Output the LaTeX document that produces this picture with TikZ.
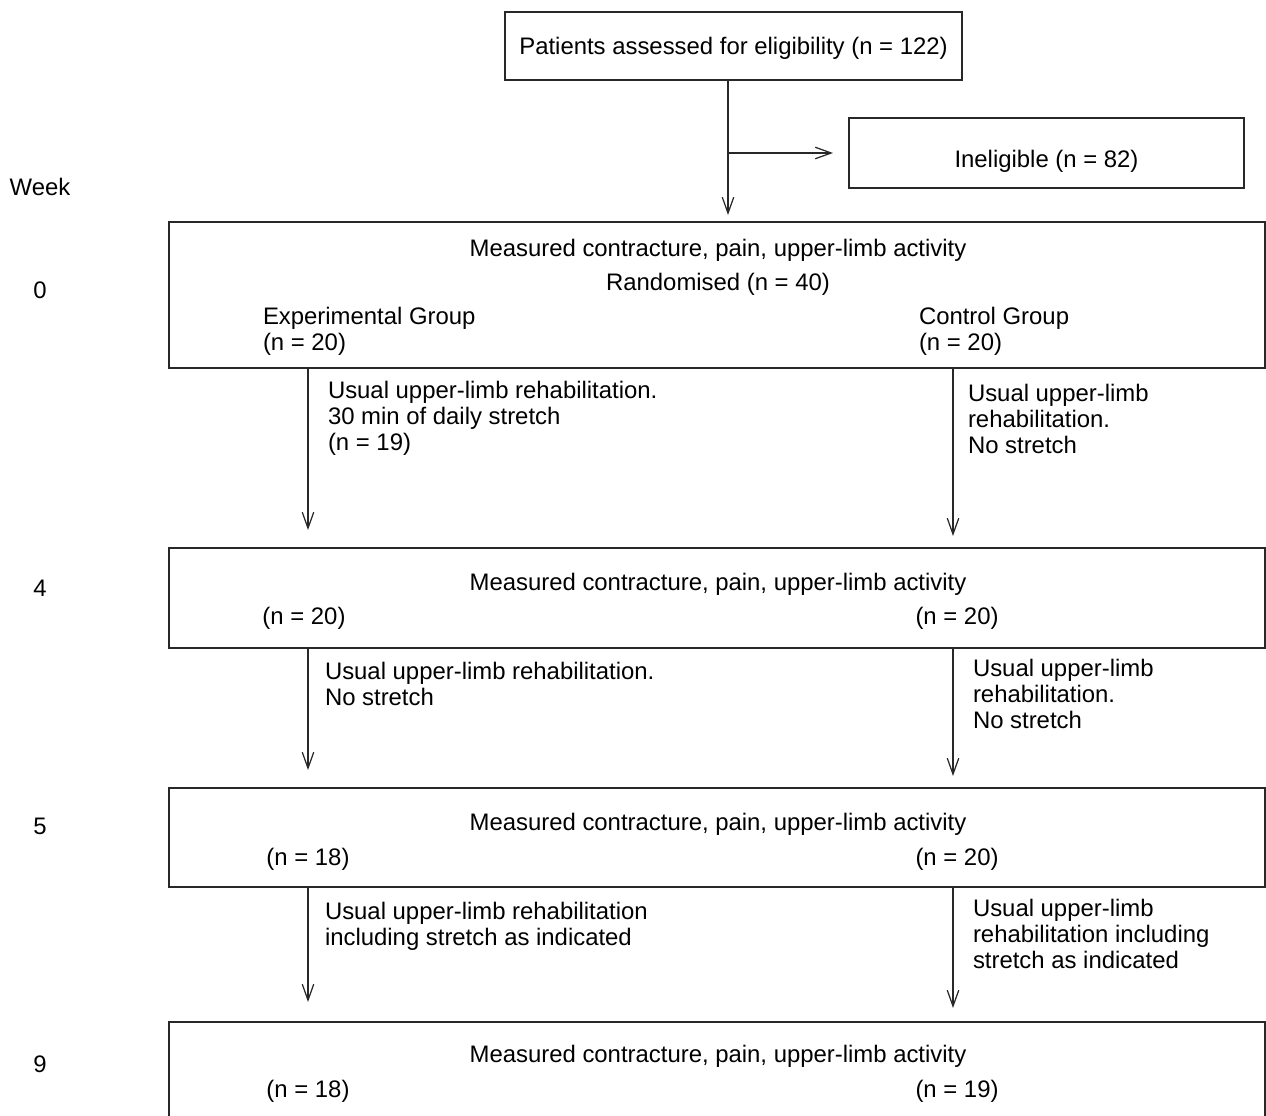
\documentclass[tikz,border=0pt]{standalone}
\usepackage{fontspec}
\setmainfont{Liberation Sans}
\definecolor{boxline}{RGB}{40, 40, 40}
\usepackage{tikz}
\usetikzlibrary{arrows.meta,positioning,calc}

\begin{document}
\begin{tikzpicture}[x=0.02cm, y=-0.02cm,
    every node/.style={font=\fontsize{13.6}{14.8}\selectfont, inner sep=0pt, outer sep=0pt},
    flowbox/.style={rectangle, draw=boxline, line width=0.9pt},
    stagebox/.style={flowbox, anchor=north west, minimum width=21.92cm},
    note/.style={anchor=base west, align=left},
    flowarrow/.style={-{Straight Barb[length=3.2mm, width=2.3mm]}, line width=0.7pt, color=boxline}]
    \useasboundingbox (0,0) rectangle (1266,1115);

    % Enrolment
    \node[flowbox, minimum width=9.14cm, minimum height=1.36cm, text height=1em, text depth=0pt] (assess) at (733.5,46) {Patients assessed for eligibility (n = 122)};
    \node[flowbox, minimum width=7.9cm, minimum height=1.4cm, text height=1.6em, text depth=0pt] (inelig) at (1046.5,153) {Ineligible (n = 82)};
    \coordinate (trunk) at (728,0);
    \coordinate (colL) at (308,0);
    \coordinate (colR) at (953,0);

    % Week labels
    \node[anchor=base] (week) at (40,195) {Week};
    \node[anchor=base] (wk0) at (40,298) {0};
    \node[anchor=base] (wk4) at (40,596) {4};
    \node[anchor=base] (wk5) at (40,834) {5};
    \node[anchor=base] (wk9) at (40,1072) {9};

    % Week 0 (multi-line notes sit on their last baseline)
    \node[stagebox, minimum height=2.92cm] (b0) at (169,222) {};
    \node[anchor=base] (m0) at (718,256) {Measured contracture, pain, upper-limb activity};
    \node[anchor=base] (rand) at (718,290) {Randomised (n = 40)};
    \node[note] (expgrp) at (263,350) {Experimental Group\\(n = 20)};
    \node[note] (congrp) at (919,350) {Control Group\\(n = 20)};

    % Week 4
    \node[stagebox, minimum height=2.0cm] (b4) at (169,548) {};
    \node[anchor=base] (m4) at (718,590) {Measured contracture, pain, upper-limb activity};
    \node[anchor=base] (n4l) at (304,624) {(n = 20)};
    \node[anchor=base] (n4r) at (957,624) {(n = 20)};

    % Week 5
    \node[stagebox, minimum height=1.98cm] (b5) at (169,788) {};
    \node[anchor=base] (m5) at (718,830) {Measured contracture, pain, upper-limb activity};
    \node[anchor=base] (n5l) at (308,865) {(n = 18)};
    \node[anchor=base] (n5r) at (957,865) {(n = 20)};

    % Week 9
    \node[stagebox, minimum height=2.4cm] (b9) at (169,1022) {};
    \node[anchor=base] (m9) at (718,1062) {Measured contracture, pain, upper-limb activity};
    \node[anchor=base] (n9l) at (308,1097) {(n = 18)};
    \node[anchor=base] (n9r) at (957,1097) {(n = 19)};

    % Interventions
    \node[note] (tx0l) at (328,450) {Usual upper-limb rehabilitation.\\30 min of daily stretch\\(n = 19)};
    \node[note] (tx0r) at (968,453) {Usual upper-limb\\rehabilitation.\\No stretch};
    \node[note] (tx4l) at (325,705) {Usual upper-limb rehabilitation.\\No stretch};
    \node[note] (tx4r) at (973,728) {Usual upper-limb\\rehabilitation.\\No stretch};
    \node[note] (tx5l) at (325,945) {Usual upper-limb rehabilitation\\including stretch as indicated};
    \node[note] (tx5r) at (973,968) {Usual upper-limb\\rehabilitation including\\stretch as indicated};

    % Arrows
    \draw[flowarrow, shorten >=0.14cm] (assess.south -| trunk) -- (b0.north -| trunk);
    \draw[flowarrow, shorten >=0.32cm] (trunk |- inelig.west) -- (inelig.west);
    \draw[flowarrow, shorten >=0.36cm] (b0.south -| colL) -- (b4.north -| colL);
    \draw[flowarrow, shorten >=0.24cm] (b0.south -| colR) -- (b4.north -| colR);
    \draw[flowarrow, shorten >=0.36cm] (b4.south -| colL) -- (b5.north -| colL);
    \draw[flowarrow, shorten >=0.24cm] (b4.south -| colR) -- (b5.north -| colR);
    \draw[flowarrow, shorten >=0.4cm] (b5.south -| colL) -- (b9.north -| colL);
    \draw[flowarrow, shorten >=0.28cm] (b5.south -| colR) -- (b9.north -| colR);
\end{tikzpicture}
\end{document}
